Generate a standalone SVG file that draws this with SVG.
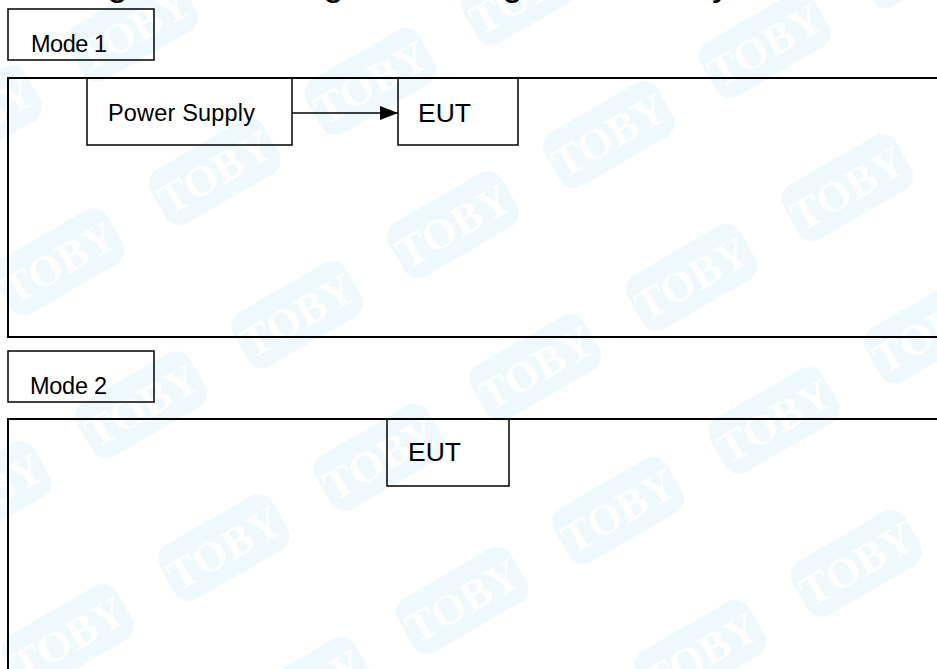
<svg xmlns="http://www.w3.org/2000/svg" width="937" height="669" viewBox="0 0 937 669">
  <defs>
    <style>
      .box { fill: none; stroke: #000; stroke-width: 1.5; }
      .frame { fill: none; stroke: #000; stroke-width: 2; }
      .lbl { font-family: "Liberation Sans", Arial, sans-serif; fill: #000; }
      .wm { font-family: "Liberation Serif", serif; font-weight: bold; font-size: 44px; fill: #ffffff; }
    </style>
    <marker id="arrow" markerWidth="18" markerHeight="14" refX="18" refY="7" orient="auto" markerUnits="userSpaceOnUse">
      <path d="M0,0 L18,7 L0,14 Z" fill="#000"/>
    </marker>
    <pattern id="wmPat" width="180" height="165" patternUnits="userSpaceOnUse" patternTransform="rotate(-30) translate(20 30)">
      <rect x="15" y="30" width="130" height="62" rx="16" fill="#eef8fd"/>
      <text x="80" y="77" text-anchor="middle" class="wm">TOBY</text>
    </pattern>
  </defs>

  <rect width="937" height="669" fill="#ffffff"/>
  <rect width="937" height="669" fill="url(#wmPat)"/>

  <text class="lbl" x="-49" y="-5" font-size="37">Block Diagram Showing the Configuration of System Tested</text>

  <g id="mode1-label">
    <rect class="box" x="8" y="9" width="146" height="51"/>
    <text class="lbl" x="31" y="52" font-size="23.5" textLength="76">Mode 1</text>
  </g>

  <g id="mode1-frame">
    <rect class="frame" x="8" y="78" width="940" height="259"/>
  </g>

  <g id="power-supply">
    <rect class="box" x="87" y="78" width="205" height="67"/>
    <text class="lbl" x="108" y="121" font-size="23.5" textLength="147">Power Supply</text>
  </g>

  <g id="eut1">
    <rect class="box" x="398" y="78" width="120" height="67"/>
    <text class="lbl" x="418" y="122" font-size="26.5">EUT</text>
  </g>

  <g id="connectors">
    <line x1="292" y1="113" x2="398" y2="113" stroke="#000" stroke-width="1.5" marker-end="url(#arrow)"/>
  </g>

  <g id="mode2-label">
    <rect class="box" x="8" y="351" width="146" height="51"/>
    <text class="lbl" x="30" y="394" font-size="23.5" textLength="77">Mode 2</text>
  </g>

  <g id="mode2-frame">
    <rect class="frame" x="8" y="419" width="940" height="270"/>
  </g>

  <g id="eut2">
    <rect class="box" x="387" y="419" width="122" height="67"/>
    <text class="lbl" x="408" y="461" font-size="26.5">EUT</text>
  </g>
</svg>
